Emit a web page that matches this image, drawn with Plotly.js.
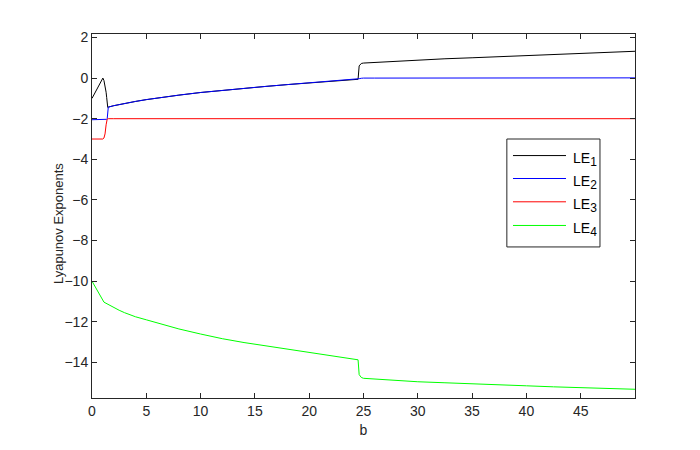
<!DOCTYPE html>
<html>
<head>
<meta charset="utf-8">
<script src="https://cdn.plot.ly/plotly-3.0.1.min.js"></script>
<style>html,body{margin:0;padding:0;background:#fff;}#chart{width:700px;height:450px;}</style>
</head>
<body>
<div id="chart"></div>
<script>
const bValues = [0, 0.25, 0.5, 0.75, 1.0, 1.1, 1.2, 1.3, 1.35, 1.4, 1.45, 1.5, 2, 2.5, 3, 4, 5, 6, 7, 8, 10, 12, 14, 16, 18, 20, 22, 24, 24.5, 24.6, 24.8, 25, 26, 28, 30, 32.5, 35, 37.5, 40, 42.5, 45, 47.5, 50];
const le1 = [-1.0, -0.75, -0.5, -0.25, 0.0, -0.12, -0.35, -0.7, -0.95, -1.2, -1.45, -1.43, -1.36, -1.30, -1.25, -1.15, -1.06, -0.98, -0.91, -0.84, -0.71, -0.60, -0.50, -0.41, -0.32, -0.24, -0.16, -0.09, -0.06, 0.6, 0.72, 0.74, 0.77, 0.84, 0.90, 0.95, 1.00, 1.05, 1.10, 1.15, 1.20, 1.26, 1.32];
const le2 = [-2.05, -2.05, -2.05, -2.05, -2.05, -2.05, -2.05, -2.05, -2.03, -2.0, -1.45, -1.43, -1.36, -1.30, -1.25, -1.15, -1.06, -0.98, -0.91, -0.84, -0.71, -0.60, -0.50, -0.41, -0.32, -0.24, -0.16, -0.09, -0.06, -0.03, -0.01, 0.0, 0.0, 0.0, 0.0, 0.0, 0.0, 0.01, 0.01, 0.01, 0.01, 0.01, 0.01];
const le3 = [-3.0, -3.0, -3.0, -3.0, -3.0, -2.95, -2.75, -2.3, -2.05, -2.02, -2.01, -2.0, -2.0, -2.0, -2.0, -2.0, -2.0, -2.0, -2.0, -2.0, -2.0, -2.0, -2.0, -2.0, -2.0, -2.0, -2.0, -2.0, -2.0, -2.0, -2.0, -2.0, -2.0, -2.0, -2.0, -2.0, -2.0, -2.0, -2.0, -2.0, -2.0, -2.0, -2.0];
const le4 = [-10.0, -10.25, -10.5, -10.75, -11.0, -11.03, -11.06, -11.09, -11.1, -11.12, -11.13, -11.15, -11.3, -11.43, -11.55, -11.75, -11.9, -12.05, -12.2, -12.35, -12.6, -12.83, -13.02, -13.18, -13.34, -13.5, -13.65, -13.8, -13.87, -14.6, -14.74, -14.78, -14.82, -14.89, -14.95, -15.0, -15.06, -15.1, -15.15, -15.2, -15.25, -15.29, -15.32];
const seriesBase = ['LE', 'LE', 'LE', 'LE'];
const seriesSubs = ['1', '2', '3', '4'];
const seriesColors = ['#000000', '#0000ff', '#ff0000', '#00ff00'];
const seriesData = [le1, le2, le3, le4];
const xTicks = [0, 5, 10, 15, 20, 25, 30, 35, 40, 45];
const yTicks = [-14, -12, -10, -8, -6, -4, -2, 0, 2];
const xTitle = 'b';
const yTitle = 'Lyapunov Exponents';

const FONT = 'Liberation Sans, Arial, Helvetica, sans-serif';

const traces = seriesData.map((ys, i) => ({
  x: bValues, y: ys, type: 'scatter', mode: 'lines',
  name: seriesBase[i] + '<sub>' + seriesSubs[i] + '</sub>', showlegend: false,
  line: {color: seriesColors[i], width: 1}
}));

// Custom MATLAB-style legend (long sample lines), built from the series names/colours
const legBox = {x0: 0.764, x1: 0.9355, y0: 0.415, y1: 0.7115};
const legRows = [0.666, 0.603, 0.539, 0.474];
const shapes = [{
  type: 'rect', xref: 'paper', yref: 'paper',
  x0: legBox.x0, x1: legBox.x1, y0: legBox.y0, y1: legBox.y1,
  line: {color: '#262626', width: 1}, fillcolor: '#ffffff', layer: 'above'
}];
const annotations = [];
seriesBase.forEach((nm, i) => {
  shapes.push({
    type: 'line', xref: 'paper', yref: 'paper',
    x0: 0.7753, x1: 0.8729, y0: legRows[i], y1: legRows[i],
    line: {color: seriesColors[i], width: 1}, layer: 'above'
  });
  annotations.push({
    xref: 'paper', yref: 'paper', x: 0.8815, y: legRows[i] - 0.01,
    xanchor: 'left', yanchor: 'middle', showarrow: false,
    text: nm + '<sub><span style="font-size:12px">' + seriesSubs[i] + '</span></sub>',
    font: {family: FONT, size: 14, color: '#000000'}
  });
});
annotations.push({
  xref: 'paper', yref: 'paper', x: -0.063, y: 0.48, xanchor: 'center', yanchor: 'middle',
  textangle: -90, showarrow: false, text: yTitle,
  font: {family: FONT, size: 13, color: '#262626'}
});

const axisCommon = {
  showline: true, linecolor: '#262626', linewidth: 1, mirror: 'ticks',
  ticks: 'inside', ticklen: 5, tickwidth: 1, tickcolor: '#262626',
  showgrid: false, zeroline: false,
  tickfont: {family: FONT, size: 14, color: '#262626'}
};

const layout = {
  width: 700, height: 450,
  margin: {l: 92, r: 65, t: 34, b: 52},
  paper_bgcolor: '#ffffff', plot_bgcolor: '#ffffff',
  showlegend: false,
  shapes: shapes,
  annotations: annotations,
  xaxis: Object.assign({}, axisCommon, {
    range: [0, 50], tickvals: xTicks,
    title: {text: xTitle, font: {family: FONT, size: 14, color: '#262626'}, standoff: 7}
  }),
  yaxis: Object.assign({}, axisCommon, {
    range: [-15.75, 2.17], tickvals: yTicks
  })
};

Plotly.newPlot('chart', traces, layout, {displayModeBar: false, staticPlot: true});
</script>
</body>
</html>
